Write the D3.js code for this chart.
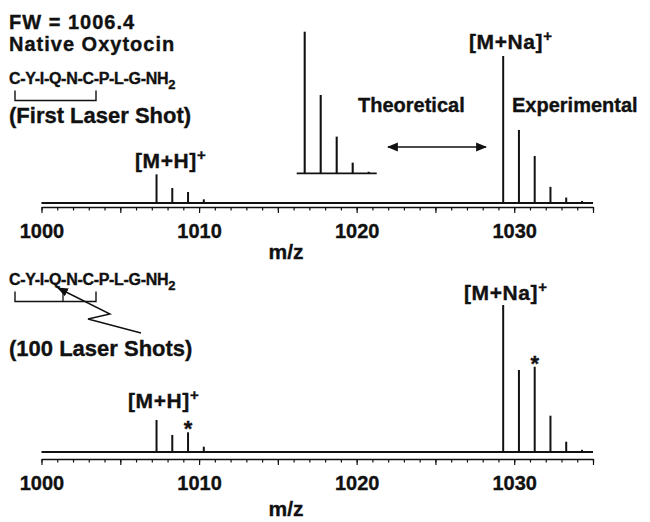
<!DOCTYPE html>
<html><head><meta charset="utf-8">
<script src="https://cdn.jsdelivr.net/npm/d3@7"></script>
<style>
body{margin:0;background:#fff}
svg text{font-family:"Liberation Sans",Arial,Helvetica,sans-serif;font-weight:bold;fill:#111;stroke:#111;stroke-width:0.35px}
</style></head><body>
<svg id="c" width="650" height="522"></svg>
<script>
// m/z of the isotope clusters
const mhMz = [1007.3, 1008.3, 1009.3, 1010.3];
const mnaMz = [1029.3, 1030.3, 1031.3, 1032.3, 1033.3, 1034.3];
// relative intensities (% of the monoisotopic [M+Na]+ peak)
const firstShotMH = [19.5, 10.2, 7.5, 2.5];
const firstShotMNa = [100, 49.7, 32, 11, 3.7, 1.4];
const hundredShotMH = [21.8, 11.6, 13.4, 3.6];
const hundredShotMNa = [100, 55.8, 58, 24.7, 7, 1.5];
// calculated isotope pattern of [M+Na]+
const theoMz = [1029.3, 1030.3, 1031.3, 1032.3, 1033.3];
const theoInt = [100, 55.3, 25.9, 7.5, 1.1];
// axis
const mzDomain = [1000, 1035];
const tickLabels = [1000, 1010, 1020, 1030];
const minorTicks = d3.range(1000, 1036);

const svg = d3.select("#c");
const ink = "#111";

const x = d3.scaleLinear().domain(mzDomain).range([41.5, 593]);

const defs = svg.append("defs");
defs.append("marker").attr("id", "head")
  .attr("viewBox", "0 0 10 10").attr("refX", 9).attr("refY", 5)
  .attr("markerWidth", 11).attr("markerHeight", 11)
  .attr("markerUnits", "userSpaceOnUse")
  .attr("orient", "auto-start-reverse")
  .append("path").attr("d", "M0,1 L10,5 L0,9 Z").attr("fill", ink);

function panel(cfg) {
  const g = svg.append("g");
  const y = d3.scaleLinear().domain([0, 100]).range([cfg.baseY, cfg.baseY - 147]);

  // spectrum baseline
  g.append("line")
    .attr("x1", x(mzDomain[0])).attr("x2", x(mzDomain[1]))
    .attr("y1", y(0)).attr("y2", y(0))
    .attr("stroke", ink).attr("stroke-width", 1.8);

  const peaks = mhMz.map((m, i) => ({ mz: m, v: cfg.mh[i] }))
    .concat(mnaMz.map((m, i) => ({ mz: m, v: cfg.mna[i] })));
  g.selectAll(".pk").data(peaks).join("line")
    .attr("x1", d => x(d.mz)).attr("x2", d => x(d.mz))
    .attr("y1", y(0) + 0.5).attr("y2", d => y(d.v))
    .attr("stroke", ink).attr("stroke-width", 2);

  // m/z axis
  const ax = g.append("g").attr("transform", `translate(0,${cfg.axisY})`);
  ax.call(d3.axisBottom(x).tickValues(minorTicks).tickSize(3.5).tickSizeOuter(0).tickFormat(""));
  ax.append("g").call(d3.axisBottom(x).tickValues(minorTicks.filter(v => v % 5 === 0))
      .tickSize(6).tickSizeOuter(0).tickFormat(""))
    .select(".domain").remove();
  const lab = ax.append("g").call(d3.axisBottom(x).tickValues(tickLabels)
      .tickFormat(d3.format("d")).tickSize(0).tickPadding(17));
  lab.select(".domain").remove();
  lab.selectAll("text").attr("font-size", 20).attr("fill", ink)
    .attr("font-family", "Liberation Sans, Arial, sans-serif").attr("font-weight", "bold");
  ax.selectAll(".domain").attr("stroke", ink).attr("stroke-width", 1.6);
  ax.selectAll(".tick line").attr("stroke", ink).attr("stroke-width", 1.2);

  g.append("text").attr("x", 286).attr("y", cfg.mzY).attr("text-anchor", "middle")
    .attr("font-size", 21).text("m/z");

  // ion labels
  const ion = (tx, ty, main) => {
    const t = g.append("text").attr("x", tx).attr("y", ty).attr("font-size", 21)
      .attr("letter-spacing", 0.6);
    t.append("tspan").text(main);
    t.append("tspan").attr("font-size", 15).attr("dy", -8).text("+");
  };
  ion(cfg.mhLab[0], cfg.mhLab[1], "[M+H]");
  ion(cfg.mnaLab[0], cfg.mnaLab[1], "[M+Na]");

  // peptide sequence with its disulfide bridge
  const seq = g.append("text").attr("x", 9).attr("y", cfg.seqY).attr("font-size", 16)
    .attr("letter-spacing", -0.3);
  seq.append("tspan").text("C-Y-I-Q-N-C-P-L-G-NH");
  seq.append("tspan").attr("font-size", 13).attr("dy", 5).text("2");
  const by = cfg.seqY + 17;
  g.append("path")
    .attr("d", `M15,${by - 10} V${by} H96 V${by - 10}`)
    .attr("fill", "none").attr("stroke", ink).attr("stroke-width", 1.4);

  g.append("text").attr("x", 9).attr("y", cfg.shotY).attr("font-size", 22).text(cfg.shot);
  return { g, y };
}

const firstPanel = panel({
  baseY: 203, axisY: 207, mzY: 259, mh: firstShotMH, mna: firstShotMNa,
  mhLab: [135, 168], mnaLab: [469, 48.5], seqY: 83.5, shotY: 123,
  shot: "(First Laser Shot)"
});
const hundredPanel = panel({
  baseY: 452, axisY: 459, mzY: 516, mh: hundredShotMH, mna: hundredShotMNa,
  mhLab: [128, 408], mnaLab: [464, 299.5], seqY: 284.5, shotY: 356,
  shot: "(100 Laser Shots)"
});

// header
svg.append("text").attr("x", 9).attr("y", 28.5).attr("font-size", 20)
  .attr("letter-spacing", 1).text("FW = 1006.4");
svg.append("text").attr("x", 9).attr("y", 51).attr("font-size", 20)
  .attr("letter-spacing", 1).text("Native Oxytocin");

// calculated isotope pattern drawn as a stick inset
const xi = d3.scaleLinear().domain([1028.8, 1033.8]).range([296.7, 376.7]);
const yi = d3.scaleLinear().domain([0, 100]).range([173.3, 31.7]);
const inset = svg.append("g");
inset.append("line").attr("x1", xi(1028.8)).attr("x2", xi(1033.8))
  .attr("y1", yi(0)).attr("y2", yi(0)).attr("stroke", ink).attr("stroke-width", 1.8);
inset.selectAll(".tp").data(theoMz.map((m, i) => ({ mz: m, v: theoInt[i] }))).join("line")
  .attr("x1", d => xi(d.mz)).attr("x2", d => xi(d.mz))
  .attr("y1", yi(0)).attr("y2", d => yi(d.v))
  .attr("stroke", ink).attr("stroke-width", 2.1);

svg.append("line").attr("x1", 388).attr("x2", 486).attr("y1", 147).attr("y2", 147)
  .attr("stroke", ink).attr("stroke-width", 1.5)
  .attr("marker-start", "url(#head)").attr("marker-end", "url(#head)");
svg.append("text").attr("x", 358).attr("y", 112).attr("font-size", 20).text("Theoretical");
svg.append("text").attr("x", 512).attr("y", 112).attr("font-size", 20).text("Experimental");

// cleavage marker on the 100-shot sequence
svg.append("line").attr("x1", 63).attr("x2", 63).attr("y1", 292).attr("y2", 301.5)
  .attr("stroke", ink).attr("stroke-width", 1.3);
svg.append("path").attr("d", "M141,333 L88,319 L110,314 L58,288")
  .attr("fill", "none").attr("stroke", ink).attr("stroke-width", 1.4)
  .attr("marker-end", "url(#head)");

// asterisks over the peaks that grow with repeated shots
svg.append("text").attr("x", x(mhMz[2])).attr("y", 436).attr("text-anchor", "middle")
  .attr("font-size", 22).text("*");
svg.append("text").attr("x", x(mnaMz[2])).attr("y", 371).attr("text-anchor", "middle")
  .attr("font-size", 22).text("*");
</script>
</body></html>
